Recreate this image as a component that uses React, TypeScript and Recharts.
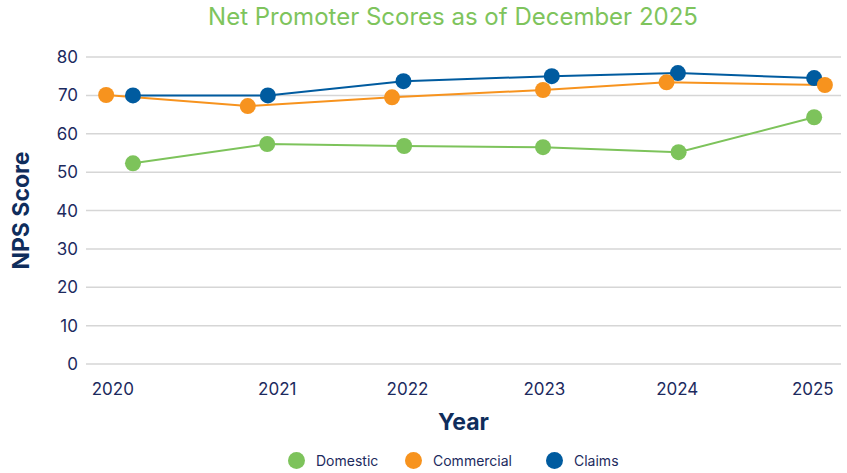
import { LineChart, Line, XAxis, YAxis, CartesianGrid, Legend, Label } from "recharts";

// x values are fractional years (points sit a bit off the year ticks)
const domesticX = [2019.925, 2020.925, 2021.945, 2022.98, 2023.99, 2025.0];
const domesticY = [52.3, 57.3, 56.8, 56.5, 55.2, 64.3];
const commercialX = [2019.725, 2020.78, 2021.855, 2022.98, 2023.9, 2025.08];
const commercialY = [70.1, 67.2, 69.5, 71.4, 73.4, 72.7];
const claimsX = [2019.925, 2020.93, 2021.94, 2023.045, 2023.985, 2025.0];
const claimsY = [70.0, 70.0, 73.7, 75.0, 75.8, 74.5];

const xTickValues = [2019.775, 2021.0, 2021.97, 2022.99, 2023.98, 2024.99];
const xTickLabels = ["2020", "2021", "2022", "2023", "2024", "2025"];
const yTicks = [0, 10, 20, 30, 40, 50, 60, 70, 80];

const NAVY = "#1c2a5e";
const series = [
  { name: "Domestic", color: "#7dc35b", xs: domesticX, ys: domesticY },
  { name: "Commercial", color: "#f7931e", xs: commercialX, ys: commercialY },
  { name: "Claims", color: "#005b9f", xs: claimsX, ys: claimsY },
];
// draw order: commercial dots sit on top of claims in the reference
const drawOrder = ["Domestic", "Claims", "Commercial"];

const toRows = (xs: number[], ys: number[]) => xs.map((x, i) => ({ x, y: ys[i] }));

const FONT = "Inter, 'Noto Sans', sans-serif";

function YTitle(props: any) {
  const vb = props.viewBox || {};
  const cx = 21;
  const cy = vb.y + vb.height / 2;
  return (
    <text
      x={cx}
      y={cy}
      transform={`rotate(-90, ${cx}, ${cy})`}
      textAnchor="middle"
      dominantBaseline="central"
      fontSize={23}
      fontWeight={700}
      fill="#0f2d5c"
      fontFamily={FONT}
    >
      NPS Score
    </text>
  );
}

function LegendBox() {
  const widths = [117, 141, 80];
  return (
    <div style={{ display: "flex", paddingLeft: 288, height: 26, alignItems: "center", fontFamily: FONT }}>
      {series.map((s, i) => (
        <div key={s.name} style={{ display: "flex", alignItems: "center", width: widths[i] }}>
          <span style={{ width: 17, height: 17, borderRadius: "50%", background: s.color, display: "inline-block" }} />
          <span style={{ marginLeft: 11, fontSize: 14, color: NAVY }}>{s.name}</span>
        </div>
      ))}
    </div>
  );
}

export default function App() {
  return (
    <div style={{ position: "absolute", left: 0, top: 0, width: 847, height: 473, background: "#fff", fontFamily: FONT }}>
      <div
        style={{
          position: "absolute",
          top: 2,
          left: 0,
          width: 906,
          textAlign: "center",
          fontSize: 24,
          color: "#7ec45c",
          whiteSpace: "nowrap",
        }}
      >
        Net Promoter Scores as of December 2025
      </div>
      <LineChart width={847} height={473} margin={{ top: 57, right: 6, bottom: 0, left: 0 }}>
        <CartesianGrid vertical={false} stroke="#d6d6d6" strokeWidth={1.5} />
        <XAxis
          dataKey="x"
          type="number"
          domain={[2019.575, 2025.2]}
          ticks={xTickValues}
          tickFormatter={(_v: number, i: number) => xTickLabels[i]}
          axisLine={false}
          tickLine={false}
          tickMargin={13}
          height={83}
          tick={{ fill: NAVY, fontSize: 17, fontFamily: FONT }}
          allowDuplicatedCategory={false}
        >
          <Label
            value="Year"
            position="insideBottom"
            offset={17}
            style={{ fill: "#0f2d5c", fontSize: 23, fontWeight: 700, fontFamily: FONT }}
          />
        </XAxis>
        <YAxis
          type="number"
          domain={[0, 80]}
          ticks={yTicks}
          width={86}
          axisLine={false}
          tickLine={false}
          tick={{ fill: NAVY, fontSize: 17, fontFamily: FONT }}
        >
          <Label content={<YTitle />} />
        </YAxis>
        <Legend verticalAlign="bottom" content={<LegendBox />} />
        {drawOrder.map((n) => {
          const s = series.find((q) => q.name === n)!;
          return (
            <Line
              key={s.name}
              name={s.name}
              data={toRows(s.xs, s.ys)}
              dataKey="y"
              type="linear"
              stroke={s.color}
              strokeWidth={2}
              dot={{ r: 8, fill: s.color, stroke: s.color, strokeWidth: 0 }}
              activeDot={false}
              isAnimationActive={false}
            />
          );
        })}
      </LineChart>
    </div>
  );
}
